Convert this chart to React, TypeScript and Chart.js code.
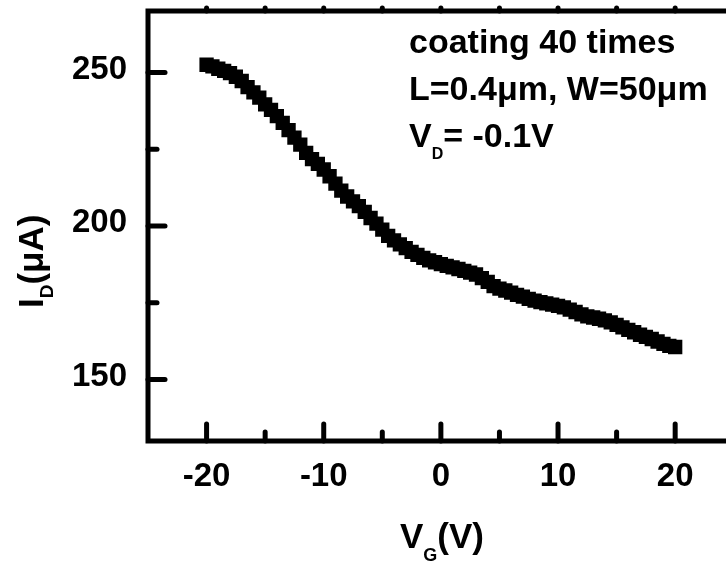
import React, { useEffect, useRef } from "react";
import { Chart, registerables } from "chart.js";

Chart.register(...registerables);

const FONT = '"Liberation Sans", Arial, sans-serif';

const vgValues = [
  -20, -19.5, -19, -18.5, -18, -17.5, -17, -16.5, -16, -15.5,
  -15, -14.5, -14, -13.5, -13, -12.5, -12, -11.5, -11, -10.5,
  -10, -9.5, -9, -8.5, -8, -7.5, -7, -6.5, -6, -5.5,
  -5, -4.5, -4, -3.5, -3, -2.5, -2, -1.5, -1, -0.5,
  0, 0.5, 1, 1.5, 2, 2.5, 3, 3.5, 4, 4.5,
  5, 5.5, 6, 6.5, 7, 7.5, 8, 8.5, 9, 9.5,
  10, 10.5, 11, 11.5, 12, 12.5, 13, 13.5, 14, 14.5,
  15, 15.5, 16, 16.5, 17, 17.5, 18, 18.5, 19, 19.5, 20,
];

const idValues = [
  252.5, 252, 251.2, 250.5, 249.8, 248.6, 247.2, 245.2, 243.5, 241.8,
  239.6, 237.8, 235.8, 233.6, 231.2, 228.8, 226.5, 223.8, 221.8, 220.2,
  218.4, 216.2, 213.8, 211.5, 209.6, 208, 206.5, 204.6, 202.6, 200.8,
  198.8, 196.8, 195.3, 194, 192.8, 191.6, 190.6, 189.6, 188.8, 188.2,
  187.6, 187, 186.5, 186, 185.4, 184.8, 184.2, 183, 181.8, 180.4,
  179.6, 179, 178.3, 177.6, 177, 176.3, 175.7, 175.2, 174.8, 174.4,
  174, 173.5, 172.8, 172, 171.2, 170.6, 170.2, 169.8, 169.3, 168.6,
  167.8, 167, 166.2, 165.4, 164.6, 163.9, 163.2, 162.4, 161.6, 161, 160.6,
];

const xTickValues = [-20, -10, 0, 10, 20];
const xMinorTicks = [-15, -5, 5, 15];
const yTickValues = [150, 200, 250];
const yMinorTicks = [175, 225];

const xTitleMain = "V";
const xTitleSub = "G";
const xTitleUnit = "(V)";
const yTitleMain = "I";
const yTitleSub = "D";
const yTitleUnit = "(\u03bcA)";
const noteLine1 = "coating 40 times";
const noteLine2 = "L=0.4\u03bcm, W=50\u03bcm";
const noteLine3Main = "V";
const noteLine3Sub = "D";
const noteLine3Rest = "= -0.1V";

const CANVAS_W = 760;
const CANVAS_H = 566;

function drawParts(
  ctx: CanvasRenderingContext2D,
  parts: { text: string; size: number; dy: number }[],
  x: number,
  y: number
) {
  let cx = x;
  for (const p of parts) {
    ctx.font = `bold ${p.size}px ${FONT}`;
    ctx.fillText(p.text, cx, y + p.dy);
    cx += ctx.measureText(p.text).width;
  }
}

const framePlugin = {
  id: "framePlugin",
  afterDraw(chart: any) {
    const ctx: CanvasRenderingContext2D = chart.ctx;
    const { left, right, top, bottom } = chart.chartArea;
    const xs = chart.scales.x;
    const ys = chart.scales.y;
    ctx.save();
    ctx.strokeStyle = "#000";
    ctx.fillStyle = "#000";
    ctx.lineWidth = 5;
    ctx.strokeRect(left, top, right - left, bottom - top);

    ctx.lineCap = "round";
    ctx.lineWidth = 5;
    const line = (x1: number, y1: number, x2: number, y2: number) => {
      ctx.beginPath();
      ctx.moveTo(x1, y1);
      ctx.lineTo(x2, y2);
      ctx.stroke();
    };
    for (const v of xTickValues) {
      const px = xs.getPixelForValue(v);
      line(px, bottom, px, bottom - 17);
      line(px, top, px, top - 3);
    }
    for (const v of xMinorTicks) {
      const px = xs.getPixelForValue(v);
      line(px, bottom, px, bottom - 9);
      line(px, top, px, top - 3);
    }
    for (const v of yTickValues) {
      const py = ys.getPixelForValue(v);
      line(left, py, left + 17, py);
    }
    for (const v of yMinorTicks) {
      const py = ys.getPixelForValue(v);
      line(left, py, left + 9, py);
    }

    ctx.textAlign = "left";
    ctx.textBaseline = "alphabetic";

    // x title
    drawParts(
      ctx,
      [
        { text: xTitleMain, size: 35, dy: 0 },
        { text: xTitleSub, size: 18, dy: 13 },
        { text: xTitleUnit, size: 35, dy: 0 },
      ],
      400,
      548
    );

    // y title (rotated)
    ctx.save();
    ctx.translate(43, 308);
    ctx.rotate(-Math.PI / 2);
    drawParts(
      ctx,
      [
        { text: yTitleMain, size: 35, dy: 0 },
        { text: yTitleSub, size: 19, dy: 10 },
        { text: yTitleUnit, size: 35, dy: 0 },
      ],
      0,
      0
    );
    ctx.restore();

    // annotation
    drawParts(ctx, [{ text: noteLine1, size: 34, dy: 0 }], 409, 53);
    drawParts(ctx, [{ text: noteLine2, size: 34, dy: 0 }], 409, 100);
    drawParts(
      ctx,
      [
        { text: noteLine3Main, size: 34, dy: 0 },
        { text: noteLine3Sub, size: 16, dy: 12 },
        { text: noteLine3Rest, size: 34, dy: 0 },
      ],
      409,
      147
    );
    ctx.restore();
  },
};

export default function App() {
  const canvasRef = useRef<HTMLCanvasElement | null>(null);

  useEffect(() => {
    const canvas = canvasRef.current;
    if (!canvas) return;
    const tickFont = { family: FONT, size: 33, weight: "bold" as const };
    const chart = new Chart(canvas, {
      type: "scatter",
      data: {
        datasets: [
          {
            data: vgValues.map((x, i) => ({ x, y: idValues[i] })),
            pointStyle: "rect",
            pointRadius: 8,
            pointHoverRadius: 8,
            backgroundColor: "#000",
            borderColor: "#000",
            borderWidth: 3,
            showLine: false,
          },
        ],
      },
      options: {
        responsive: false,
        animation: false,
        devicePixelRatio: 1,
        events: [],
        layout: {
          padding: { left: 0, right: CANVAS_W - 733.75, top: 10, bottom: 0 },
        },
        plugins: {
          legend: { display: false },
          tooltip: { enabled: false },
        },
        scales: {
          x: {
            type: "linear",
            position: "bottom",
            min: -25,
            max: 25,
            afterBuildTicks: (s: any) => {
              s.ticks = xTickValues.map((v) => ({ value: v }));
            },
            afterFit: (s: any) => {
              s.height = CANVAS_H - 441;
              s.paddingLeft = 0;
              s.paddingRight = 0;
            },
            grid: { display: false, drawTicks: false },
            border: { display: false },
            ticks: {
              font: tickFont,
              color: "#000",
              padding: 16,
              maxRotation: 0,
              autoSkip: false,
              callback: (v: any) => String(v),
            },
          },
          y: {
            type: "linear",
            min: 130,
            max: 270,
            afterBuildTicks: (s: any) => {
              s.ticks = yTickValues.map((v) => ({ value: v }));
            },
            afterFit: (s: any) => {
              s.width = 148;
              s.paddingTop = 0;
              s.paddingBottom = 0;
            },
            grid: { display: false, drawTicks: false },
            border: { display: false },
            ticks: {
              font: tickFont,
              color: "#000",
              padding: 21,
              labelOffset: -3,
              autoSkip: false,
              callback: (v: any) => String(v),
            },
          },
        },
      },
      plugins: [framePlugin],
    });
    return () => chart.destroy();
  }, []);

  return (
    <div
      style={{
        position: "fixed",
        left: 0,
        top: 0,
        width: 726,
        height: 566,
        overflow: "hidden",
        background: "#fff",
      }}
    >
      <canvas
        ref={canvasRef}
        width={CANVAS_W}
        height={CANVAS_H}
        style={{ width: CANVAS_W, height: CANVAS_H, display: "block" }}
      />
    </div>
  );
}
